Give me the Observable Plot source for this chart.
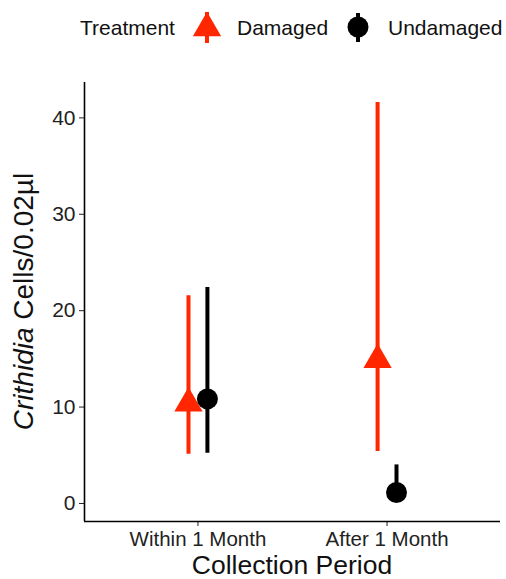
<!DOCTYPE html>
<html>
<head>
<meta charset="utf-8">
<script src="https://cdn.jsdelivr.net/npm/d3@7"></script>
<script src="https://cdn.jsdelivr.net/npm/@observablehq/plot@0.6"></script>
<style>
  html, body { margin: 0; padding: 0; background: white; }
  #chart svg { display: block; }
</style>
</head>
<body>
<div id="chart"></div>
<script>
// ---- data ----
const periods = ["Within 1 Month", "After 1 Month"];
const treatments = ["Damaged", "Undamaged"];
const damagedMean = [10.4, 14.9];
const damagedLow = [5.1, 5.4];
const damagedHigh = [21.55, 41.6];
const undamagedMean = [10.85, 1.14];
const undamagedLow = [5.2, 0.2];
const undamagedHigh = [22.4, 4.0];
const yTicks = [0, 10, 20, 30, 40];
const colors = ["#ff2600", "#000000"];

// ---- build rows ----
const dodge = 0.05;
const rows = [];
periods.forEach((p, i) => {
  rows.push({period: p, treatment: "Damaged", x: i + 1 - dodge, mean: damagedMean[i], low: damagedLow[i], high: damagedHigh[i]});
  rows.push({period: p, treatment: "Undamaged", x: i + 1 + dodge, mean: undamagedMean[i], low: undamagedLow[i], high: undamagedHigh[i]});
});
const allVals = [...damagedLow, ...damagedHigh, ...undamagedLow, ...undamagedHigh];
const lo = d3.min(allVals), hi = d3.max(allVals);
const pad = (hi - lo) * 0.05;
const yDomain = [lo - pad, hi + pad];
const xDomain = [0.4, periods.length + 0.6];

const font = "Liberation Sans, Arial, Helvetica, sans-serif";
const W = 506, legendH = 56, H = 579 - legendH;

// ---- legend ----
const chart = document.getElementById("chart");
const leg = d3.create("svg").attr("width", W).attr("height", legendH)
  .style("font-family", font).style("font-size", "21px");
leg.append("text").attr("x", 80).attr("y", 35).attr("fill", "#111").text("Treatment");
const keys = [
  {cx: 207, cy: 28, y1: 12, y2: 43, tx: 237, sym: d3.symbolTriangle},
  {cx: 358, cy: 27, y1: 13, y2: 42, tx: 388, sym: d3.symbolCircle}
];
treatments.forEach((t, i) => {
  const k = keys[i];
  leg.append("line").attr("x1", k.cx).attr("x2", k.cx).attr("y1", k.y1).attr("y2", k.y2)
    .attr("stroke", colors[i]).attr("stroke-width", 4);
  leg.append("path").attr("transform", `translate(${k.cx},${k.cy})`)
    .attr("d", d3.symbol(k.sym, Math.PI * 10.5 * 10.5)()).attr("fill", colors[i]);
  leg.append("text").attr("x", k.tx).attr("y", 35).attr("fill", "#111").text(t);
});
chart.appendChild(leg.node());

// ---- plot ----
const marks = [];
treatments.forEach(t => {
  const sub = rows.filter(r => r.treatment === t);
  marks.push(Plot.ruleX(sub, {x: "x", y1: "low", y2: "high", stroke: "treatment", strokeWidth: 4}));
  marks.push(Plot.dot(sub, {x: "x", y: "mean", fill: "treatment", symbol: "treatment", r: 10.5, stroke: "none"}));
});

const svg = Plot.plot({
  width: W,
  height: H,
  marginLeft: 84,
  marginRight: 6,
  marginTop: 26,
  marginBottom: 58,
  style: {fontFamily: font, fontSize: "20px", background: "white", color: "#222"},
  x: {domain: xDomain, axis: null},
  y: {domain: yDomain, axis: null},
  color: {domain: treatments, range: colors},
  symbol: {domain: treatments, range: ["triangle", "circle"]},
  marks: [
    Plot.axisY({ticks: yTicks, tickSize: 5, tickPadding: 4, fontSize: 21, label: null, color: "#222"}),
    Plot.axisX({ticks: periods.map((p, i) => i + 1), tickFormat: v => periods[v - 1], tickSize: 5, tickPadding: 5, fontSize: 20.5, label: null, color: "#222"}),
    Plot.ruleX([xDomain[0]], {stroke: "black", strokeWidth: 1.6}),
    Plot.ruleY([yDomain[0]], {stroke: "black", strokeWidth: 1.6}),
    ...marks
  ]
});

const s = d3.select(svg);
// x title
s.append("text").attr("x", (84 + (W - 6)) / 2).attr("y", H - 5.5)
  .attr("text-anchor", "middle").attr("font-size", 26.5).attr("fill", "#111")
  .text("Collection Period");
// y title
const cy = (26 + (H - 58)) / 2;
const yt = s.append("text").attr("transform", `translate(33,${cy}) rotate(-90)`)
  .attr("text-anchor", "middle").attr("font-size", 28).attr("fill", "#111");
yt.append("tspan").attr("font-style", "italic").text("Crithidia");
yt.append("tspan").text(" Cells/0.02µl");

chart.appendChild(svg);
</script>
</body>
</html>
